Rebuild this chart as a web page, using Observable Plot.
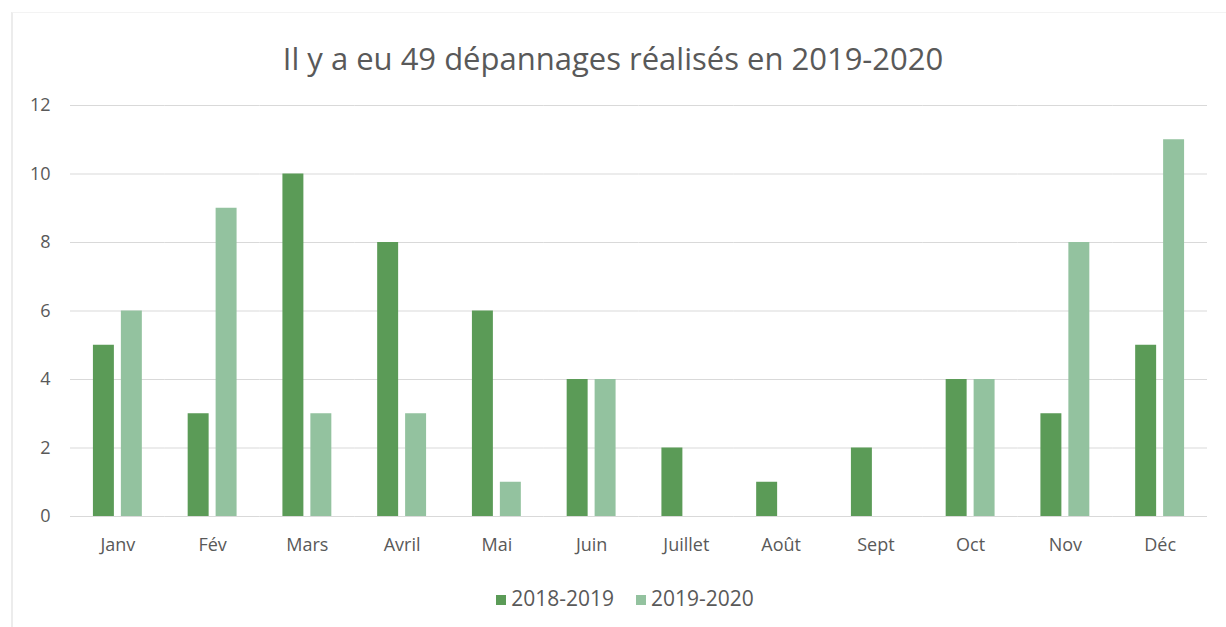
<!DOCTYPE html>
<html>
<head>
<meta charset="utf-8">
<script src="https://cdn.jsdelivr.net/npm/d3@7"></script>
<script src="https://cdn.jsdelivr.net/npm/@observablehq/plot@0.6"></script>
<style>
  html, body { margin: 0; padding: 0; background: #fff; }
  body { width: 1226px; height: 627px; position: relative; overflow: hidden; font-family: "Open Sans", sans-serif; }
  #frame { position: absolute; left: 11px; top: 12px; width: 1220px; height: 620px; border-left: 2px solid #ececec; border-top: 1px solid #f3f3f3; }
  #title { position: absolute; left: 0; top: 36px; width: 1226px; text-align: center; font-size: 31px; color: #595959; line-height: 44px; }
  #chart { position: absolute; left: 0; top: 85px; }
  #legend { position: absolute; left: 12px; top: 584px; width: 1226px; display: flex; justify-content: center; gap: 22px; font-size: 21px; color: #595959; line-height: 28px; }
  #legend span.sw { display: inline-block; width: 10px; height: 10px; margin-right: 5px; vertical-align: 1px; }
</style>
</head>
<body>
<div id="frame"></div>
<div id="title">Il y a eu 49 dépannages réalisés en 2019-2020</div>
<div id="chart"></div>
<div id="legend"></div>
<script>
const months = ["Janv", "Fév", "Mars", "Avril", "Mai", "Juin", "Juillet", "Août", "Sept", "Oct", "Nov", "Déc"];
const seriesNames = ["2018-2019", "2019-2020"];
const values2018 = [5, 3, 10, 8, 6, 4, 2, 1, 2, 4, 3, 5];
const values2019 = [6, 9, 3, 3, 1, 4, 0, 0, 0, 4, 8, 11];
const yTicks = [0, 2, 4, 6, 8, 10, 12];
const colors = ["#5b9b57", "#93c29f"];

const data = [];
months.forEach((m, i) => {
  data.push({month: m, series: seriesNames[0], value: values2018[i]});
  data.push({month: m, series: seriesNames[1], value: values2019[i]});
});

const chart = Plot.plot({
  width: 1226,
  height: 480,
  marginTop: 20,
  marginBottom: 49,
  marginLeft: 70,
  marginRight: 19,
  style: {fontFamily: "Open Sans, sans-serif", fontSize: "18px", color: "#595959", background: "transparent"},
  fx: {domain: months, padding: 0, round: false, axis: "bottom", tickSize: 0, tickPadding: 22, label: null},
  x: {domain: seriesNames, round: false, paddingInner: 0.25, paddingOuter: 0.82, axis: null},
  y: {domain: [0, 12], ticks: yTicks, tickSize: 0, tickPadding: 20, label: null, grid: false},
  color: {domain: seriesNames, range: colors},
  marks: [
    Plot.ruleY(yTicks, {stroke: "#d9d9d9", strokeWidth: 1}),
    Plot.barY(data, {fx: "month", x: "series", y: "value", fill: "series"})
  ]
});
document.getElementById("chart").appendChild(chart);

const legend = document.getElementById("legend");
seriesNames.forEach((s, i) => {
  const item = document.createElement("div");
  const sw = document.createElement("span");
  sw.className = "sw";
  sw.style.background = colors[i];
  item.appendChild(sw);
  item.appendChild(document.createTextNode(s));
  legend.appendChild(item);
});
</script>
</body>
</html>
